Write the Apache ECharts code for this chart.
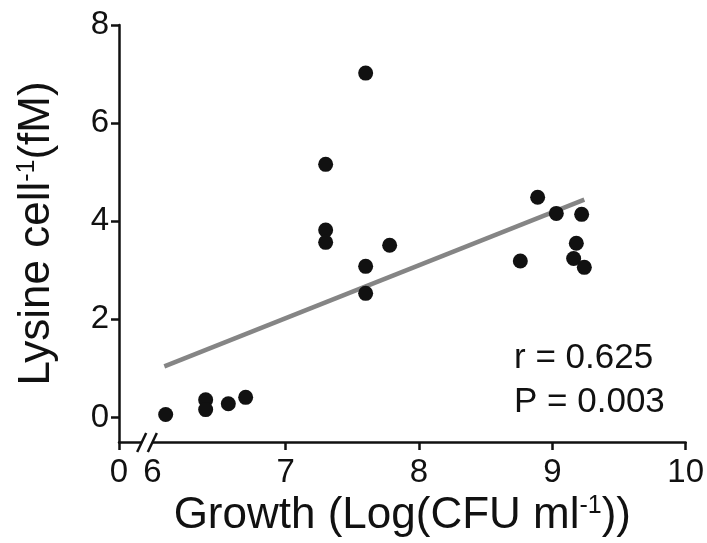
<!DOCTYPE html>
<html>
<head>
<meta charset="utf-8">
<script src="https://cdn.jsdelivr.net/npm/echarts@6.0.0/dist/echarts.min.js"></script>
<style>
html, body { margin: 0; padding: 0; background: #fff; }
#chart { width: 707px; height: 543px; }
</style>
</head>
<body>
<div id="chart"></div>
<script>
const growth = [6.10, 6.40, 6.40, 6.57, 6.70, 7.30, 7.30, 7.30, 7.60, 7.60, 7.60, 7.78, 8.76, 8.89, 9.03, 9.16, 9.18, 9.22, 9.24]
const lysine = [0.06, 0.36, 0.16, 0.28, 0.41, 5.16, 3.82, 3.57, 7.02, 3.08, 2.53, 3.51, 3.19, 4.49, 4.16, 3.24, 3.55, 4.14, 3.06]
const fitX = [6.09, 9.24]
const fitY = [1.04, 4.44]
const xTicks = [5.75, 7, 8, 9, 10]
const xLabels = [5.75, 6, 7, 8, 9, 10]
const yTicks = [0, 2, 4, 6, 8]
const stats = ['r = 0.625', 'P = 0.003']

const font = '"Liberation Sans", Arial, sans-serif'
const ink = '#111'

const points = growth.map((g, i) => [g, lysine[i]])
const fit = fitX.map((x, i) => [x, fitY[i]])

// superscript style shared by both axis names
const supRich = { sup: { fontSize: 25, verticalAlign: 'top', color: ink, padding: [0, 0, 16, 0] } }

const chart = echarts.init(document.getElementById('chart'))
chart.setOption({
  animation: false,
  textStyle: { fontFamily: font },
  grid: { left: 119, right: 21, top: 25, bottom: 101 },
  xAxis: {
    type: 'value',
    min: 5.75,
    max: 10,
    splitLine: { show: false },
    axisLine: { onZero: false, lineStyle: { color: ink, width: 2.5 } },
    axisTick: { customValues: xTicks, length: 8, lineStyle: { color: ink, width: 2.5 } },
    axisLabel: {
      customValues: xLabels,
      margin: 14,
      fontSize: 33,
      color: ink,
      formatter: v => (v < 6 ? '0' : String(v))
    },
    name: 'Growth (Log(CFU ml{sup|-1}))',
    nameLocation: 'middle',
    nameGap: 28,
    nameTextStyle: { fontSize: 44, color: ink, rich: supRich }
  },
  yAxis: {
    type: 'value',
    min: -0.5,
    max: 8,
    splitLine: { show: false },
    axisLine: { onZero: false, lineStyle: { color: ink, width: 2.5 } },
    axisTick: { customValues: yTicks, length: 8, lineStyle: { color: ink, width: 2.5 } },
    axisLabel: { customValues: yTicks, margin: 10, fontSize: 33, color: ink },
    name: 'Lysine cell{sup|-1}(fM)',
    nameLocation: 'middle',
    nameGap: 60,
    nameTextStyle: { fontSize: 44, color: ink, rich: supRich }
  },
  series: [
    {
      type: 'line',
      data: fit,
      symbol: 'none',
      lineStyle: { color: '#858585', width: 4.5 },
      z: 1
    },
    {
      type: 'scatter',
      data: points,
      symbolSize: 15,
      itemStyle: { color: ink, opacity: 1 },
      z: 2
    }
  ]
})

// axis break marks ("//") and the stats text
const y0 = chart.convertToPixel({ gridIndex: 0 }, [6, -0.5])[1]
const b1 = chart.convertToPixel({ gridIndex: 0 }, [5.92, -0.5])[0]
const b2 = chart.convertToPixel({ gridIndex: 0 }, [6.0, -0.5])[0]
const slash = cx => ({
  type: 'line',
  shape: { x1: cx - 4.5, y1: y0 + 10, x2: cx + 4.5, y2: y0 - 9 },
  style: { stroke: ink, lineWidth: 2.5 },
  z: 100
})
chart.setOption({
  graphic: [
    { type: 'rect', shape: { x: b1, y: y0 - 3, width: b2 - b1, height: 6 }, style: { fill: '#fff' }, z: 99 },
    slash(b1),
    slash(b2),
    {
      type: 'text',
      left: 514,
      top: 336,
      style: { text: stats.join('\n'), font: '35px ' + font, fill: ink, lineHeight: 44 }
    }
  ]
})
</script>
</body>
</html>
